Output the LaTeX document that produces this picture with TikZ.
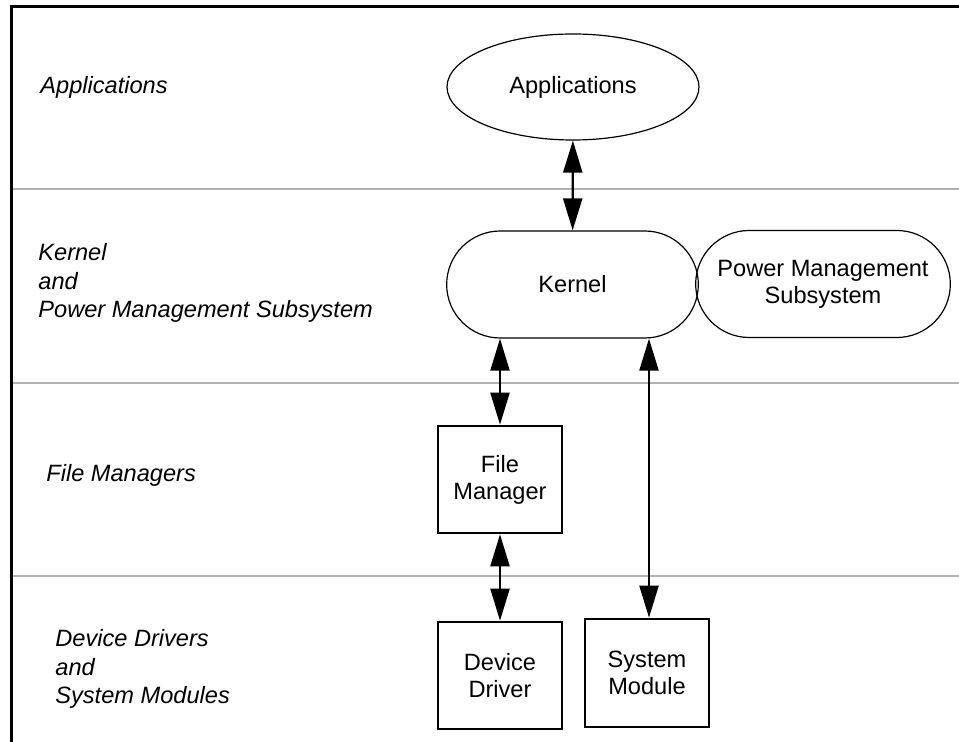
\documentclass[tikz,border=0pt]{standalone}
\usepackage{fontspec}
\setmainfont{Liberation Sans}
\usetikzlibrary{shapes.geometric,shapes.misc,arrows.meta}

\tikzset{
	layertext/.style={font=\fontsize{11.8}{14.2}\selectfont\itshape, align=left, anchor=west, inner sep=0pt},
	boxtext/.style={font=\fontsize{11.8}{13.6}\selectfont, align=center},
	module/.style={draw, line width=1.3pt, rectangle, boxtext, minimum width=62pt, minimum height=53.5pt},
	pill/.style={draw, line width=0.6pt, rounded rectangle, boxtext, minimum height=53.5pt},
	link/.style={line width=1.1pt, {Triangle[length=16pt,width=9.5pt]}-{Triangle[length=16pt,width=9.5pt]}},
	divider/.style={line width=1pt, gray!60}
}

\begin{document}
\begin{tikzpicture}[x=0.5pt, y=-0.5pt]
	\useasboundingbox (0,0) rectangle (959,742);

	% frame and layer lines
	\draw [divider] (10,189) -- (959,189);
	\draw [divider] (10,383) -- (959,383);
	\draw [divider] (10,576) -- (959,576);
	\draw [line width=1.5pt] (11,742) -- (11,7) -- (959,7);

	% layer names
	\node [layertext] (lapps) at (40,87) {Applications};
	\node [layertext] (lkernel) at (38,283) {Kernel\\and\\Power Management Subsystem};
	\node [layertext] (lfm) at (46,475) {File Managers};
	\node [layertext] (ldev) at (55,669) {Device Drivers\\and\\System Modules};

	% components
	\node [draw, line width=0.6pt, ellipse, boxtext, minimum width=126pt, minimum height=53pt] (apps) at (573,87) {Applications};
	\node [pill, minimum width=132.5pt] (kernel) at (572.5,284.5) {Kernel};
	\node [pill, minimum width=134pt] (pms) at (823,284) {Power Management\\Subsystem};
	\node [module] (fm) at (500,479.5) {File\\Manager};
	\node [module] (dd) at (500,675.5) {Device\\Driver};
	\node [module, minimum height=54pt] (sm) at (647,673) {System\\Module};

	% connections
	\draw [link] (apps) -- (kernel);
	\draw [link] (fm.north |- kernel.south) -- (fm.north);
	\draw [link] (fm) -- (dd);
	\draw [link] ([xshift=1pt]sm.north |- kernel.south) -- ([xshift=1pt]sm.north);
\end{tikzpicture}
\end{document}
